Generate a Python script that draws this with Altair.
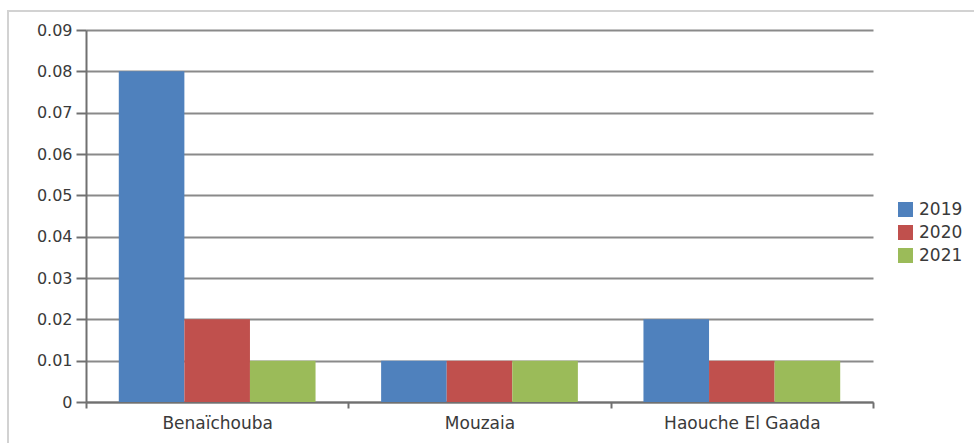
import altair as alt
import pandas as pd

# Sites, years and measured values
sites = ["Benaïchouba", "Mouzaia", "Haouche El Gaada"]
years = ["2019", "2020", "2021"]
values_2019 = [0.08, 0.01, 0.02]
values_2020 = [0.02, 0.01, 0.01]
values_2021 = [0.01, 0.01, 0.01]
y_ticks = [0, 0.01, 0.02, 0.03, 0.04, 0.05, 0.06, 0.07, 0.08, 0.09]
year_colors = ["#4F81BD", "#C0504D", "#9BBB59"]

series = {"2019": values_2019, "2020": values_2020, "2021": values_2021}
rows = []
for i, site in enumerate(sites):
    for yr in years:
        rows.append({"site": site, "year": yr, "value": series[yr][i]})
df = pd.DataFrame(rows)

FONT = "DejaVu Sans"
TEXT = "#3a3a3a"
GRID = "#8a8a8a"
AXIS = "#707070"

bars = alt.Chart(df).mark_bar().encode(
    x=alt.X(
        "site:N",
        sort=sites,
        title=None,
        scale=alt.Scale(paddingInner=0, paddingOuter=0),
        axis=alt.Axis(
            tickBand="extent",
            labelAngle=0,
            grid=False,
            domainColor=AXIS,
            domainWidth=2,
            tickColor=AXIS,
            tickWidth=2,
            tickSize=6,
            labelPadding=7,
            labelFontSize=17,
            labelColor=TEXT,
            labelFont=FONT,
        ),
    ),
    xOffset=alt.XOffset(
        "year:N", sort=years, scale=alt.Scale(paddingInner=0, paddingOuter=0.5)
    ),
    y=alt.Y(
        "value:Q",
        title=None,
        scale=alt.Scale(domain=[0, 0.09], nice=False, zero=True),
        axis=alt.Axis(
            values=y_ticks,
            format=".2~f",
            grid=True,
            gridColor=GRID,
            gridWidth=2,
            gridOpacity=1,
            domainColor=AXIS,
            domainWidth=2,
            tickColor=AXIS,
            tickWidth=2,
            tickSize=10,
            labelPadding=4,
            labelFontSize=16,
            labelColor=TEXT,
            labelFont=FONT,
        ),
    ),
    color=alt.Color(
        "year:N",
        scale=alt.Scale(domain=years, range=year_colors),
        legend=alt.Legend(
            title=None,
            orient="none",
            legendX=811,
            legendY=171,
            padding=0,
            symbolType="square",
            symbolSize=225,
            symbolStrokeWidth=0,
            labelFontSize=17,
            labelFont=FONT,
            labelColor=TEXT,
            labelOffset=5,
            rowPadding=5,
        ),
    ),
)

# Light frame around the whole figure
frame = alt.Chart(pd.DataFrame({"f": [0]})).mark_rect(
    fill="transparent", stroke="#d2d2d2", strokeWidth=2
).encode(
    x=alt.value(-78), x2=alt.value(1000), y=alt.value(-19), y2=alt.value(480)
)

chart = alt.layer(frame, bars).properties(
    width=787,
    height=372,
    autosize=alt.AutoSizeParams(type="none"),
    padding={"left": 86, "top": 30, "right": 101, "bottom": 41},
    background="white",
).configure_view(strokeWidth=0)

chart.save("out.html", embed_options={"renderer": "svg", "actions": False})
